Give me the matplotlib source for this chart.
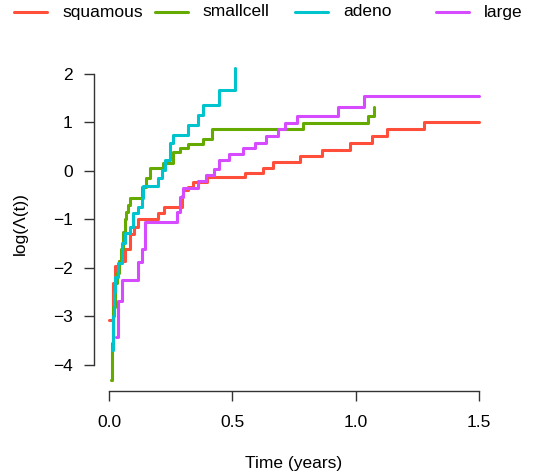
"""
Cumulative hazard by cell type, log scale
"""
import matplotlib
matplotlib.use("Agg")
import matplotlib.pyplot as plt
from matplotlib.lines import Line2D

plt.rcParams["font.family"] = ["Liberation Sans", "DejaVu Sans"]

# step functions (time in years, log cumulative hazard)
squamous_t = [0.0, 0.018, 0.024, 0.04, 0.065, 0.085, 0.10, 0.119, 0.2, 0.223, 0.295, 0.30,
              0.32, 0.342, 0.396, 0.551, 0.626, 0.666, 0.774, 0.862, 0.977, 1.065, 1.126,
              1.278, 1.5]
squamous_v = [-3.07, -2.3, -1.95, -1.85, -1.6, -1.3, -1.15, -1.0, -0.86, -0.74, -0.52, -0.39,
              -0.32, -0.22, -0.13, -0.035, 0.068, 0.19, 0.315, 0.433, 0.584, 0.722, 0.86,
              1.0, 1.0]

smallcell_t = [0.009, 0.011, 0.018, 0.025, 0.031, 0.04, 0.048, 0.055, 0.065, 0.07, 0.078,
               0.085, 0.132, 0.15, 0.166, 0.22, 0.261, 0.288, 0.321, 0.38, 0.416, 0.788,
               1.051, 1.074]
smallcell_v = [-4.3, -3.55, -2.8, -2.3, -2.1, -1.85, -1.6, -1.26, -1.0, -0.85, -0.7,
               -0.56, -0.32, -0.15, 0.056, 0.16, 0.40, 0.47, 0.55, 0.653, 0.86, 0.98,
               1.134, 1.326]

adeno_t = [0.011, 0.016, 0.02, 0.024, 0.035, 0.051, 0.065, 0.085, 0.099, 0.119, 0.132,
           0.139, 0.2, 0.214, 0.227, 0.247, 0.261, 0.321, 0.362, 0.382, 0.447, 0.511]
adeno_v = [-3.69, -3.0, -2.5, -2.18, -1.9, -1.49, -1.28, -1.15, -0.87, -0.74, -0.56,
           -0.31, -0.15, 0.02, 0.227, 0.57, 0.74, 0.95, 1.155, 1.36, 1.67, 2.12]

large_t = [0.029, 0.036, 0.051, 0.119, 0.132, 0.146, 0.274, 0.288, 0.30, 0.36, 0.393,
           0.427, 0.447, 0.488, 0.545, 0.592, 0.636, 0.686, 0.713, 0.761, 0.93, 1.034, 1.5]
large_v = [-3.42, -2.69, -2.25, -1.87, -1.6, -1.045, -0.84, -0.53, -0.36, -0.2, -0.08,
           0.035, 0.227, 0.35, 0.468, 0.584, 0.72, 0.86, 0.98, 1.134, 1.31, 1.546, 1.546]

labels = ["squamous", "smallcell", "adeno", "large"]
colors = ["#FF4F3B", "#64AA00", "#00C4CD", "#D64BFF"]
x_ticks = [0.0, 0.5, 1.0, 1.5]
x_ticklabels = ["0.0", "0.5", "1.0", "1.5"]
y_ticks = [-4, -3, -2, -1, 0, 1, 2]

W, H = 540, 475
fig = plt.figure(figsize=(W / 100, H / 100), dpi=100)
ax = fig.add_axes([94.2 / W, (H - 391) / H, (493.8 - 94.2) / W, (391 - 56.7) / H])

series = [(squamous_t, squamous_v), (smallcell_t, smallcell_v),
          (adeno_t, adeno_v), (large_t, large_v)]
for (t, v), c in zip(series, colors):
    ax.step(t, v, where="post", color=c, lw=2.2,
            solid_capstyle="round", solid_joinstyle="round")

ax.set_xlim(-0.06, 1.56)
ax.set_ylim(-4.536, 2.356)

# R style axes: only between the outer ticks, no box
for s in ["top", "right"]:
    ax.spines[s].set_visible(False)
ax.spines["bottom"].set_bounds(0, 1.5)
ax.spines["left"].set_bounds(-4, 2)
for s in ["bottom", "left"]:
    ax.spines[s].set_color("#333333")
    ax.spines[s].set_linewidth(1)

ax.set_xticks(x_ticks, x_ticklabels)
ax.set_yticks(y_ticks, [str(v).replace("-", "\u2212") for v in y_ticks])
ax.tick_params(axis="both", direction="out", length=7.5, width=1, color="#333333",
               labelsize=12.5)
ax.tick_params(axis="x", pad=10)
ax.tick_params(axis="y", pad=8)

ax.set_xlabel("Time (years)", fontsize=12.5)
ax.xaxis.set_label_coords(0.5, -0.194)
ax.set_ylabel("log(\u039b(t))", fontsize=12.5)
ax.yaxis.set_label_coords(-0.165, 0.5)

# horizontal legend across the top
for i, (lab, c) in enumerate(zip(labels, colors)):
    x0 = 14 + 140.7 * i
    y0 = 1 - 12 / H
    fig.add_artist(Line2D([x0 / W, (x0 + 33) / W], [y0, y0], color=c, lw=2.2,
                          solid_capstyle="round"))
    fig.text((x0 + 48) / W, y0, lab, fontsize=12.5, va="center", ha="left")

fig.savefig("out.png", dpi=100)
